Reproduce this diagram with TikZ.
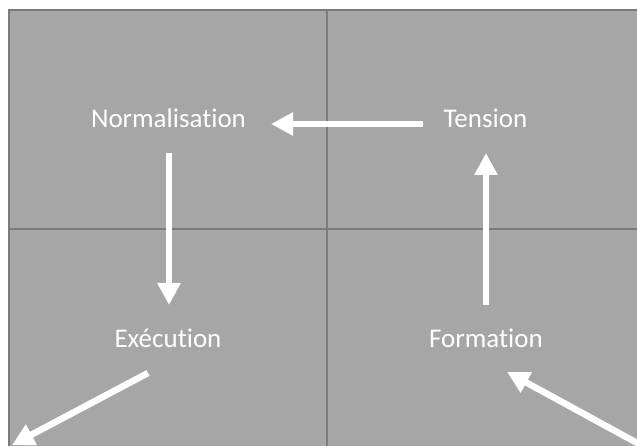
\documentclass[tikz,border=0pt]{standalone}
\usepackage{fontspec}
\setmainfont[Ligatures=NoCommon]{Carlito}
\usetikzlibrary{arrows.meta}
\definecolor{panelgray}{HTML}{A6A6A6}
\definecolor{linegray}{HTML}{7A7A7A}
\tikzset{
  lbl/.style={text=white, inner sep=0pt, anchor=base, font=\fontsize{27}{30}\selectfont},
  flow/.style={draw=white, line width=6.5pt, -{Triangle[length=22pt,width=22pt]}},
  gridline/.style={draw=linegray, line width=2pt}
}
\begin{document}
\begin{tikzpicture}[x=1pt,y=-1pt]
\useasboundingbox (0,0) rectangle (637,446);
\clip (0,0) rectangle (637,446);
\fill[panelgray] (9,10.5) rectangle (640,450);
\draw[gridline] (9,450) -- (9,10.5) -- (640,10.5);
\draw[gridline] (327,10.5) -- (327,450);
\draw[gridline] (9,229.5) -- (640,229.5);
\node[lbl] (norm) at (168.5,128) {Normalisation};
\node[lbl] (ten) at (485.5,128) {Tension};
\node[lbl] (exe) at (168,347) {Exécution};
\node[lbl] (form) at (486,347) {Formation};
\coordinate (tenW) at (423,124);
\coordinate (normE) at (271,124);
\coordinate (normS) at (169,153);
\coordinate (exeN) at (169,305);
\coordinate (formN) at (486,305);
\coordinate (tenS) at (486,153);
\coordinate (exeOut) at (148,373);
\coordinate (outBL) at (12,445);
\coordinate (inBR) at (650,450);
\coordinate (formIn) at (507,372);
\draw[flow] (tenW) -- (normE);
\draw[flow] (normS) -- (exeN);
\draw[flow] (formN) -- (tenS);
\draw[flow] (exeOut) -- (outBL);
\draw[flow] (inBR) -- (formIn);
\end{tikzpicture}
\end{document}
